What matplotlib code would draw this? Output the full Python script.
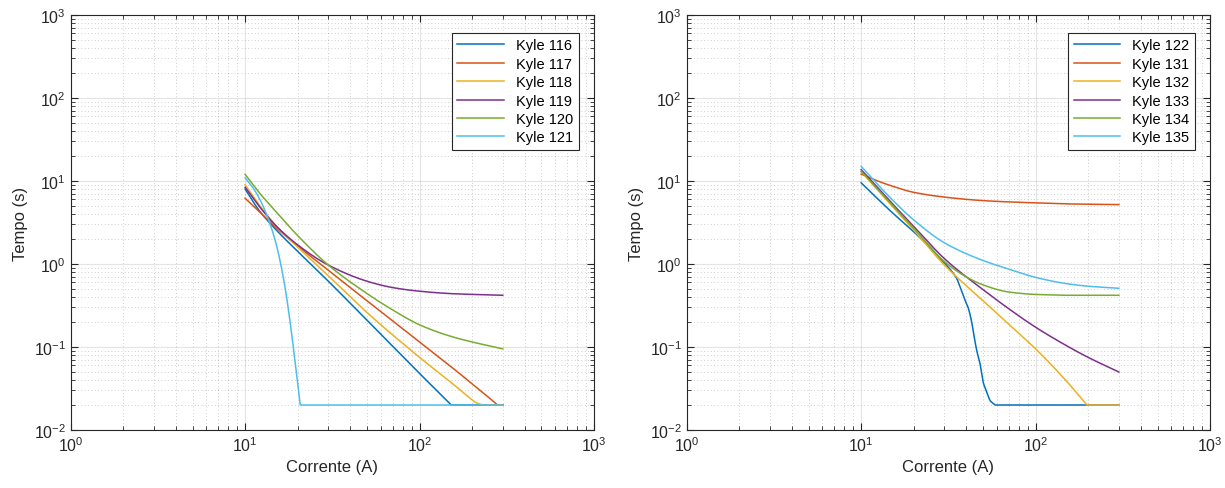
import numpy as np
import matplotlib.pyplot as plt
from matplotlib.ticker import LogLocator, NullFormatter

plt.rcParams['font.family'] = ['Liberation Sans', 'DejaVu Sans']
plt.rcParams['mathtext.fontset'] = 'custom'
plt.rcParams['mathtext.rm'] = 'Liberation Sans'
plt.rcParams['axes.unicode_minus'] = False

cores = ['#0072BD', '#D95319', '#EDB120', '#7E2F8E', '#77AC30', '#4DBEEE']

# painel esquerdo
nomes_esq = ['Kyle 116', 'Kyle 117', 'Kyle 118', 'Kyle 119', 'Kyle 120', 'Kyle 121']
x116 = [10, 12, 15, 20, 30, 50, 70, 100, 152, 300]
t116 = [8.0, 4.45, 2.6, 1.42, 0.62, 0.21, 0.103, 0.048, 0.02, 0.02]
x117 = [10, 12, 15, 20, 30, 50, 70, 100, 150, 200, 250, 280, 300]
t117 = [6.2, 4.3, 2.75, 1.65, 0.84, 0.36, 0.207, 0.115, 0.059, 0.036, 0.0245, 0.02, 0.02]
x118 = [10, 12, 15, 20, 30, 50, 70, 85, 100, 150, 187, 210, 230, 300]
t118 = [9.0, 5.2, 2.9, 1.6, 0.72, 0.26, 0.14, 0.1, 0.075, 0.038, 0.026, 0.0215, 0.02, 0.02]
x119 = [10, 12, 15, 20, 30, 50, 70, 100, 150, 200, 300]
t119 = [8.4, 5.0, 2.9, 1.7, 0.97, 0.62, 0.52, 0.47, 0.44, 0.43, 0.42]
x120 = [10, 12, 15, 20, 30, 50, 70, 100, 150, 200, 300]
t120 = [12.0, 7.3, 4.3, 2.2, 0.97, 0.44, 0.28, 0.185, 0.135, 0.115, 0.095]
x121 = [10, 11, 12, 13, 14, 15, 16, 17, 18, 19, 20, 20.7, 300]
t121 = [10.9, 8.5, 6.3, 4.4, 2.9, 1.8, 1.0, 0.5, 0.22, 0.09, 0.037, 0.02, 0.02]

# painel direito
nomes_dir = ['Kyle 122', 'Kyle 131', 'Kyle 132', 'Kyle 133', 'Kyle 134', 'Kyle 135']
x122 = [10, 15, 20, 25, 30, 33, 35.4, 37, 39.5, 41, 43, 44, 46, 48, 50, 52, 55, 58.7, 300]
t122 = [9.5, 4.2, 2.45, 1.55, 1.03, 0.82, 0.66, 0.52, 0.36, 0.3, 0.2, 0.15, 0.09, 0.063, 0.038, 0.03, 0.0225, 0.02, 0.02]
x131 = [10, 12, 15, 20, 30, 50, 70, 100, 150, 200, 300]
t131 = [12.1, 10.3, 8.7, 7.3, 6.4, 5.8, 5.6, 5.45, 5.3, 5.25, 5.2]
x132 = [10, 15, 20, 30, 50, 70, 100, 150, 197, 300]
t132 = [13.0, 5.0, 2.57, 0.97, 0.36, 0.19, 0.095, 0.039, 0.02, 0.02]
x133 = [10, 15, 20, 30, 50, 70, 100, 150, 200, 300]
t133 = [13.7, 5.4, 2.85, 1.16, 0.49, 0.29, 0.173, 0.104, 0.075, 0.05]
x134 = [10, 15, 20, 30, 40, 50, 70, 100, 150, 300]
t134 = [13.1, 5.2, 2.7, 1.07, 0.7, 0.56, 0.46, 0.43, 0.42, 0.42]
x135 = [10, 15, 20, 30, 50, 70, 100, 150, 200, 300]
t135 = [15.0, 6.0, 3.4, 1.8, 1.1, 0.87, 0.69, 0.58, 0.54, 0.51]

esq = [(x116, t116), (x117, t117), (x118, t118), (x119, t119), (x120, t120), (x121, t121)]
dir_ = [(x122, t122), (x131, t131), (x132, t132), (x133, t133), (x134, t134), (x135, t135)]


def pchip(xk, yk, xs):
    # interpolacao monotona (Fritsch-Carlson)
    h = np.diff(xk)
    d = np.diff(yk) / h
    m = np.zeros_like(yk)
    for i in range(1, len(xk) - 1):
        if d[i - 1] * d[i] > 0:
            w1 = 2 * h[i] + h[i - 1]
            w2 = h[i] + 2 * h[i - 1]
            m[i] = (w1 + w2) / (w1 / d[i - 1] + w2 / d[i])
    m[0] = d[0]
    m[-1] = d[-1]
    idx = np.clip(np.searchsorted(xk, xs) - 1, 0, len(xk) - 2)
    t = (xs - xk[idx]) / h[idx]
    h00 = 2 * t**3 - 3 * t**2 + 1
    h10 = t**3 - 2 * t**2 + t
    h01 = -2 * t**3 + 3 * t**2
    h11 = t**3 - t**2
    return h00 * yk[idx] + h10 * h[idx] * m[idx] + h01 * yk[idx + 1] + h11 * h[idx] * m[idx + 1]


def curva(x, t):
    lx = np.log10(np.array(x, float))
    ly = np.log10(np.array(t, float))
    # patamar final (tempo minimo) fica reto, com quina
    k = len(ly) - 1
    while k > 0 and ly[k - 1] == ly[-1]:
        k -= 1
    xs = np.union1d(np.linspace(lx[0], lx[k], 500), lx[:k + 1])
    ys = pchip(lx[:k + 1], ly[:k + 1], xs)
    xs = np.concatenate([xs, lx[k + 1:]])
    ys = np.concatenate([ys, ly[k + 1:]])
    return 10 ** xs, 10 ** ys


fig = plt.figure(figsize=(12.25, 4.89), dpi=100)
ax1 = fig.add_axes([0.0577, 0.1186, 0.4272, 0.8487])
ax2 = fig.add_axes([0.5606, 0.1186, 0.4272, 0.8487])

for ax, series, nomes in [(ax1, esq, nomes_esq), (ax2, dir_, nomes_dir)]:
    for (x, t), nome, c in zip(series, nomes, cores):
        xx, tt = curva(x, t)
        ax.plot(xx, tt, color=c, lw=1.1, label=nome)
    ax.set_xscale('log')
    ax.set_yscale('log')
    ax.set_xlim(1, 1000)
    ax.set_ylim(0.01, 1000)
    ax.xaxis.set_major_locator(LogLocator(base=10, numticks=10))
    ax.yaxis.set_major_locator(LogLocator(base=10, numticks=10))
    ax.xaxis.set_minor_locator(LogLocator(base=10, subs=np.arange(2, 10), numticks=20))
    ax.yaxis.set_minor_locator(LogLocator(base=10, subs=np.arange(2, 10), numticks=20))
    ax.xaxis.set_minor_formatter(NullFormatter())
    ax.yaxis.set_minor_formatter(NullFormatter())
    ax.grid(True, which='major', color='#262626', alpha=0.12, lw=0.8, ls='-')
    ax.grid(True, which='minor', color='#262626', alpha=0.3, lw=0.6, ls=(0, (1, 3)))
    ax.set_axisbelow(True)
    ax.tick_params(which='both', direction='in', top=True, right=True,
                   colors='#262626', labelsize=11.5, labelcolor='#262626')
    ax.tick_params(which='major', length=5)
    ax.tick_params(which='minor', length=3)
    for s in ax.spines.values():
        s.set_color('#262626')
        s.set_linewidth(0.8)
    ax.set_xlabel('Corrente (A)', fontsize=12, color='#262626')
    ax.set_ylabel('Tempo (s)', fontsize=12, color='#262626')
    leg = ax.legend(loc='upper right', fontsize=10.5, fancybox=False, framealpha=1,
                    edgecolor='#262626', handlelength=3.2, borderpad=0.4,
                    labelspacing=0.3, bbox_to_anchor=(0.985, 0.975))
    leg.get_frame().set_linewidth(0.8)

fig.savefig('out.png', dpi=100)
